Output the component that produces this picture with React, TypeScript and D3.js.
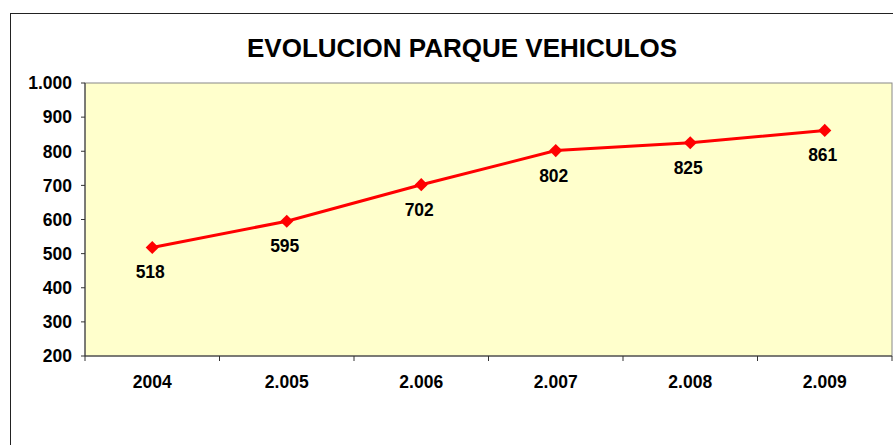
import React from 'react';
import * as d3 from 'd3';

const years = ['2004', '2.005', '2.006', '2.007', '2.008', '2.009'];
const vehicles = [518, 595, 702, 802, 825, 861];
const yTicks = [200, 300, 400, 500, 600, 700, 800, 900, 1000];

const fmt = (v: number) => d3.format(',')(v).replace(/,/g, '.');

const App: React.FC = () => {
  const width = 893;
  const height = 445;
  const margin = { top: 83, right: 1, bottom: 89, left: 85 };
  const innerWidth = width - margin.left - margin.right;
  const innerHeight = height - margin.top - margin.bottom;

  const x = d3.scaleBand().domain(years).range([0, innerWidth]);
  const y = d3.scaleLinear().domain([200, 1000]).range([innerHeight, 0]);

  const line = d3.line<number>()
    .x((_, i) => x(years[i])! + x.bandwidth() / 2)
    .y(d => y(d));

  const font = 'Arial, "Liberation Sans", sans-serif';
  const diamond = d3.symbol().type(d3.symbolDiamond2).size(110)()!;

  return (
    <svg width={width} height={height} style={{ position: 'absolute', left: 0, top: 0 }} fontFamily={font}>
      <rect x={0} y={0} width={width} height={height} fill="#fff" />
      <rect x={10.5} y={13.5} width={width} height={height} fill="#fff" stroke="#222" />
      <text x={462} y={57} textAnchor="middle" fontSize={26} fontWeight="bold">
        EVOLUCION PARQUE VEHICULOS
      </text>
      <g transform={`translate(${margin.left},${margin.top})`}>
        <rect x={0} y={0} width={innerWidth} height={innerHeight} fill="#FFFFCC" stroke="#888" />
        <line x1={0} x2={0} y1={0} y2={innerHeight} stroke="#333" />
        <line x1={0} x2={innerWidth} y1={innerHeight} y2={innerHeight} stroke="#333" />
        {yTicks.map(t => (
          <g key={t} transform={`translate(0,${y(t)})`}>
            <line x1={-4} x2={0} stroke="#333" />
            <text x={-13} dy="0.36em" textAnchor="end" fontSize={17.5} fontWeight="bold">{fmt(t)}</text>
          </g>
        ))}
        {[...years.map(d => x(d)!), innerWidth].map((p, i) => (
          <line key={i} x1={p} x2={p} y1={innerHeight} y2={innerHeight + 5} stroke="#333" />
        ))}
        {years.map(d => (
          <text key={d} x={x(d)! + x.bandwidth() / 2} y={innerHeight + 32} textAnchor="middle" fontSize={17.5} fontWeight="bold">{d}</text>
        ))}
        <path d={line(vehicles)!} fill="none" stroke="#FF0000" strokeWidth={3} />
        {vehicles.map((v, i) => {
          const cx = x(years[i])! + x.bandwidth() / 2;
          return (
            <g key={i}>
              <path d={diamond} transform={`translate(${cx},${y(v)})`} fill="#FF0000" />
              <text x={cx - 2} y={y(v) + 31} textAnchor="middle" fontSize={17.5} fontWeight="bold">{v}</text>
            </g>
          );
        })}
      </g>
    </svg>
  );
};

export default App;
